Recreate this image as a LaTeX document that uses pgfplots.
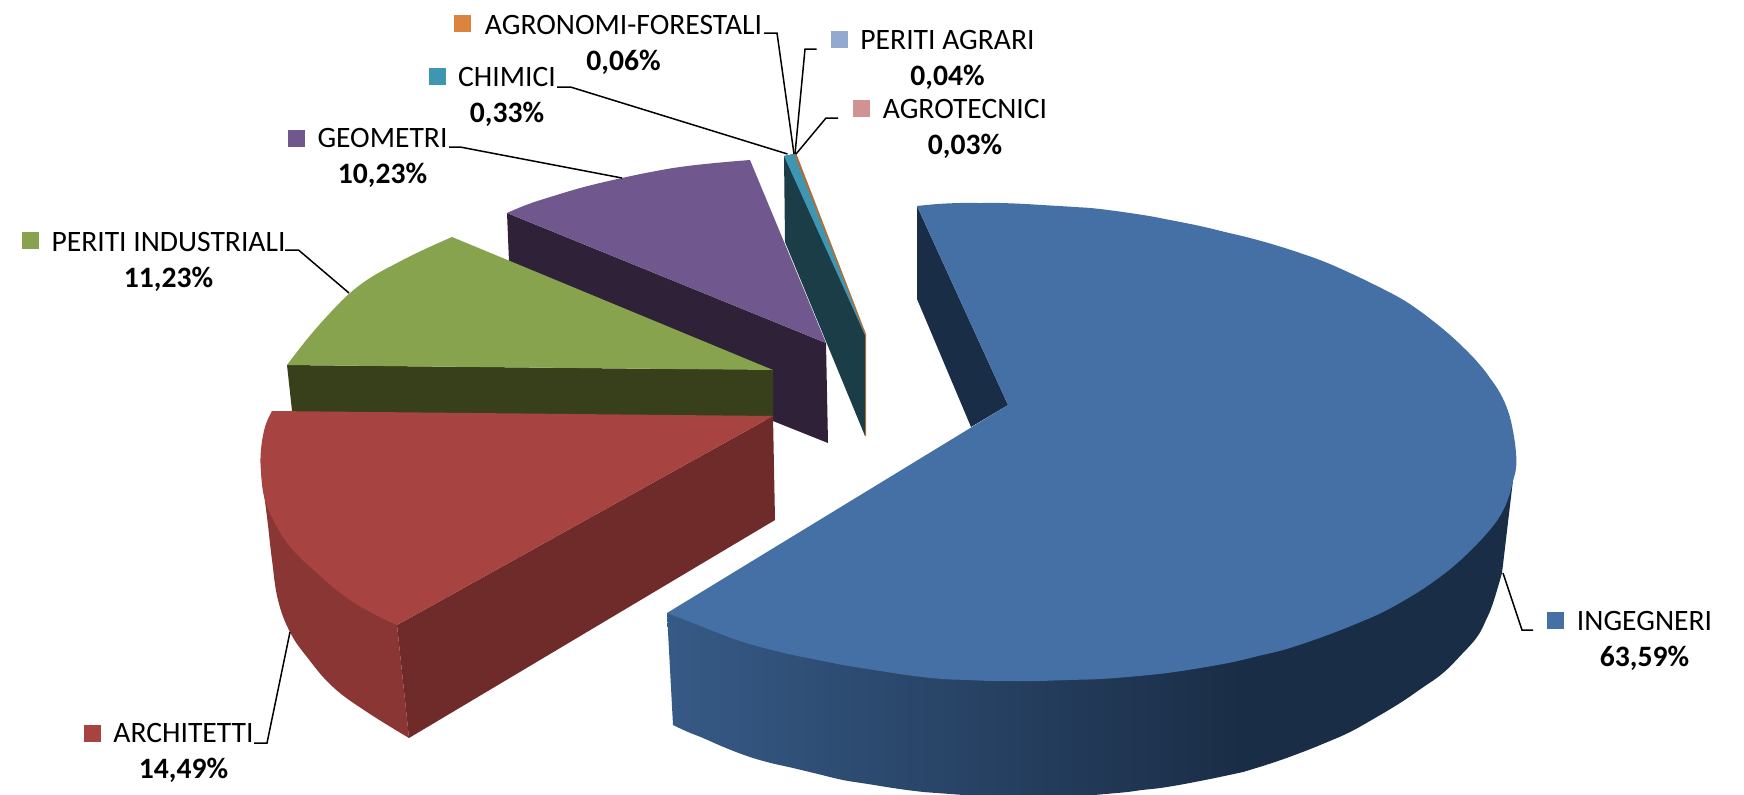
\documentclass[border=0pt]{standalone}
\usepackage{fontspec}
\setmainfont{Carlito}
\usepackage{pgfplots}
\pgfplotsset{compat=1.18}
\definecolor{bluetop}{HTML}{4470A5}
\definecolor{bluedark}{HTML}{1A2D46}
\definecolor{bluelite}{HTML}{365A86}
\definecolor{redtop}{HTML}{A74341}
\definecolor{reddark}{HTML}{6F2A2A}
\definecolor{redout}{HTML}{8A3634}
\definecolor{greentop}{HTML}{87A34D}
\definecolor{greendark}{HTML}{38401B}
\definecolor{purtop}{HTML}{70588E}
\definecolor{purdark}{HTML}{2E2138}
\definecolor{tealtop}{HTML}{3F96B2}
\definecolor{tealdark}{HTML}{1B3D48}
\definecolor{orangeS}{HTML}{DB843D}
\definecolor{brownS}{HTML}{A8703F}
\definecolor{lblue}{HTML}{93A9CF}
\definecolor{pinkS}{HTML}{D09392}
\newcommand{\lab}[4]{\node[font=\fontsize{14.8}{17}\selectfont,text=black,inner sep=0pt,anchor=center] at (axis cs:#1,#2) {#3};\node[font=\fontsize{14.8}{17}\selectfont\bfseries,text=black,inner sep=0pt,anchor=center] at (axis cs:#1+0,#2+37) {#4};}
\pgfplotsset{key/.style={only marks,mark=square*,mark size=4pt,color=#1,mark options={solid,fill=#1,draw=#1,line width=0pt}}}
\begin{document}
\begin{tikzpicture}
\begin{axis}[
  scale only axis, width=872pt, height=397pt,
  xmin=0, xmax=1744, ymin=0, ymax=794, y dir=reverse,
  hide axis, clip=true
]
% --- small slices (teal wall first)
\addplot[fill=tealdark,draw=none] coordinates {(784,156) (785,242) (865,436) (865,335) (794,154)};
\addplot[fill=tealtop,draw=none] coordinates {(784,156) (794,154) (865,335)};
\addplot[fill=brownS,draw=none] coordinates {(794,154) (796.5,154) (866,334) (866,436) (865,436) (865,335)};
% --- purple
\addplot[fill=purdark,draw=none] coordinates {(507,213) (826,343) (828,443) (773,421) (509,262)};
\addplot[fill=purtop,draw=none,smooth,tension=0.7] coordinates {(507,213) (526,205) (547,198) (584,187) (622,178) (651,172) (680,167) (715,163) (750,160)} -- (826,343) -- cycle;
% --- green
\addplot[fill=greendark,draw=none] coordinates {(287,365) (773,370) (773,420) (293,420)};
\addplot[fill=greentop,draw=none,smooth,tension=0.7] coordinates {(452,237) (423,250) (397,263) (370,278) (349,294) (330,313) (313,332) (300,348) (287,365)} -- (773,370) -- cycle;
% --- red
\addplot[fill=redout,draw=none,smooth,tension=0.7] coordinates {(261,472) (267,517) (272,560) (278,600) (290,632) (307,657) (333,687) (367,712) (409,738)} -- (397,625) -- cycle;
\addplot[fill=reddark,draw=none] coordinates {(397,625) (773,416) (775,520) (409,738)};
\addplot[fill=redtop,draw=none,smooth,tension=0.7] coordinates {(272,411) (265,427) (261,450) (261,472) (265,500) (277,527) (293,550) (317,573) (343,595) (370,612) (397,625)} -- (773,416) -- cycle;
% --- blue
\addplot[fill=bluedark,draw=none] coordinates {(917,206) (917,299) (971,427) (1008,405)};
\addplot[fill=bluedark,draw=none,smooth,tension=0.7] coordinates {(1502,573) (1493,603) (1486,620) (1477,637) (1461,655) (1443,673) (1422,688) (1400,703) (1375,718) (1350,732) (1325,743) (1300,753) (1272,763) (1243,772)} -- (1243,500) -- (1513,480) -- cycle;
\addplot[left color=bluelite,right color=bluedark,draw=none,smooth,tension=0.7] coordinates {(1243,772) (1205,780) (1167,787) (1142,790) (1117,793) (1060,797) (1000,797) (937,793) (915,791) (893,788) (868,784) (843,780) (818,774) (793,768) (771,763) (750,757) (726,748) (703,738) (688,732) (673,725)} -- (667,613) -- (1243,500) -- cycle;
\addplot[fill=bluetop,draw=none,smooth,tension=0.7] coordinates {(917,206) (938,204) (960,203) (980,203) (1000,203) (1025,204) (1050,205.5) (1075,207) (1100,209) (1143,215) (1170,220) (1200,226) (1225,232) (1250,238) (1275,245) (1300,253) (1325,262) (1350,273) (1375,285) (1400,298) (1417,309) (1433,321) (1450,335) (1467,351) (1480,365) (1490,378) (1500,393) (1508,411) (1513,431) (1516,453) (1516,468) (1513,481) (1508,499) (1500,516) (1488,532) (1473,548) (1455,565) (1433,582) (1410,597) (1383,612) (1358,623) (1333,633) (1308,642) (1283,650) (1258,656) (1233,662) (1200,668) (1167,673) (1133,676.5) (1100,679) (1068,680) (1037,681) (1015,681) (993,681) (968,680) (943,679) (918,676.5) (893,673) (868,669) (843,665) (818,660) (793,655) (768,649) (743,642) (718,633) (693,623) (667,613)} -- (1008,405) -- cycle;
% --- leader lines
\addplot[black,line width=0.75pt] coordinates {(764,33) (777,33) (794,154)};
\addplot[black,line width=0.75pt] coordinates {(816.5,49) (805,49) (795,154)};
\addplot[black,line width=0.75pt] coordinates {(838,118) (826,118) (796,154)};
\addplot[black,line width=0.75pt] coordinates {(557,87) (570.5,87) (787.5,154)};
\addplot[black,line width=0.75pt] coordinates {(449,147) (460,147) (622,178)};
\addplot[black,line width=0.75pt] coordinates {(285,250) (298.5,250) (349,293)};
\addplot[black,line width=0.75pt] coordinates {(254,743) (267,743) (290,632)};
\addplot[black,line width=0.75pt] coordinates {(1533,630) (1522,630) (1503,573)};
% --- legend keys
\addplot[key=orangeS] coordinates {(462.5,23.5)};
\addplot[key=lblue] coordinates {(839.5,39.5)};
\addplot[key=pinkS] coordinates {(861,108.5)};
\addplot[key=tealtop] coordinates {(437,76.5)};
\addplot[key=purtop] coordinates {(296,138)};
\addplot[key=greentop] coordinates {(30,240)};
\addplot[key=redtop] coordinates {(92,733)};
\addplot[key=bluetop] coordinates {(1555.5,620)};
% --- labels
\lab{623.5}{25}{AGRONOMI-FORESTALI}{0,06\%}
\lab{947.5}{40}{PERITI AGRARI}{0,04\%}
\lab{965}{109}{AGROTECNICI}{0,03\%}
\lab{507}{77}{CHIMICI}{0,33\%}
\lab{382.5}{138}{GEOMETRI}{10,23\%}
\lab{168.5}{242}{PERITI INDUSTRIALI}{11,23\%}
\lab{183.5}{733}{ARCHITETTI}{14,49\%}
\lab{1644.5}{621}{INGEGNERI}{63,59\%}
\end{axis}
\useasboundingbox (current axis.south west) rectangle (current axis.north east);
\end{tikzpicture}
\end{document}
